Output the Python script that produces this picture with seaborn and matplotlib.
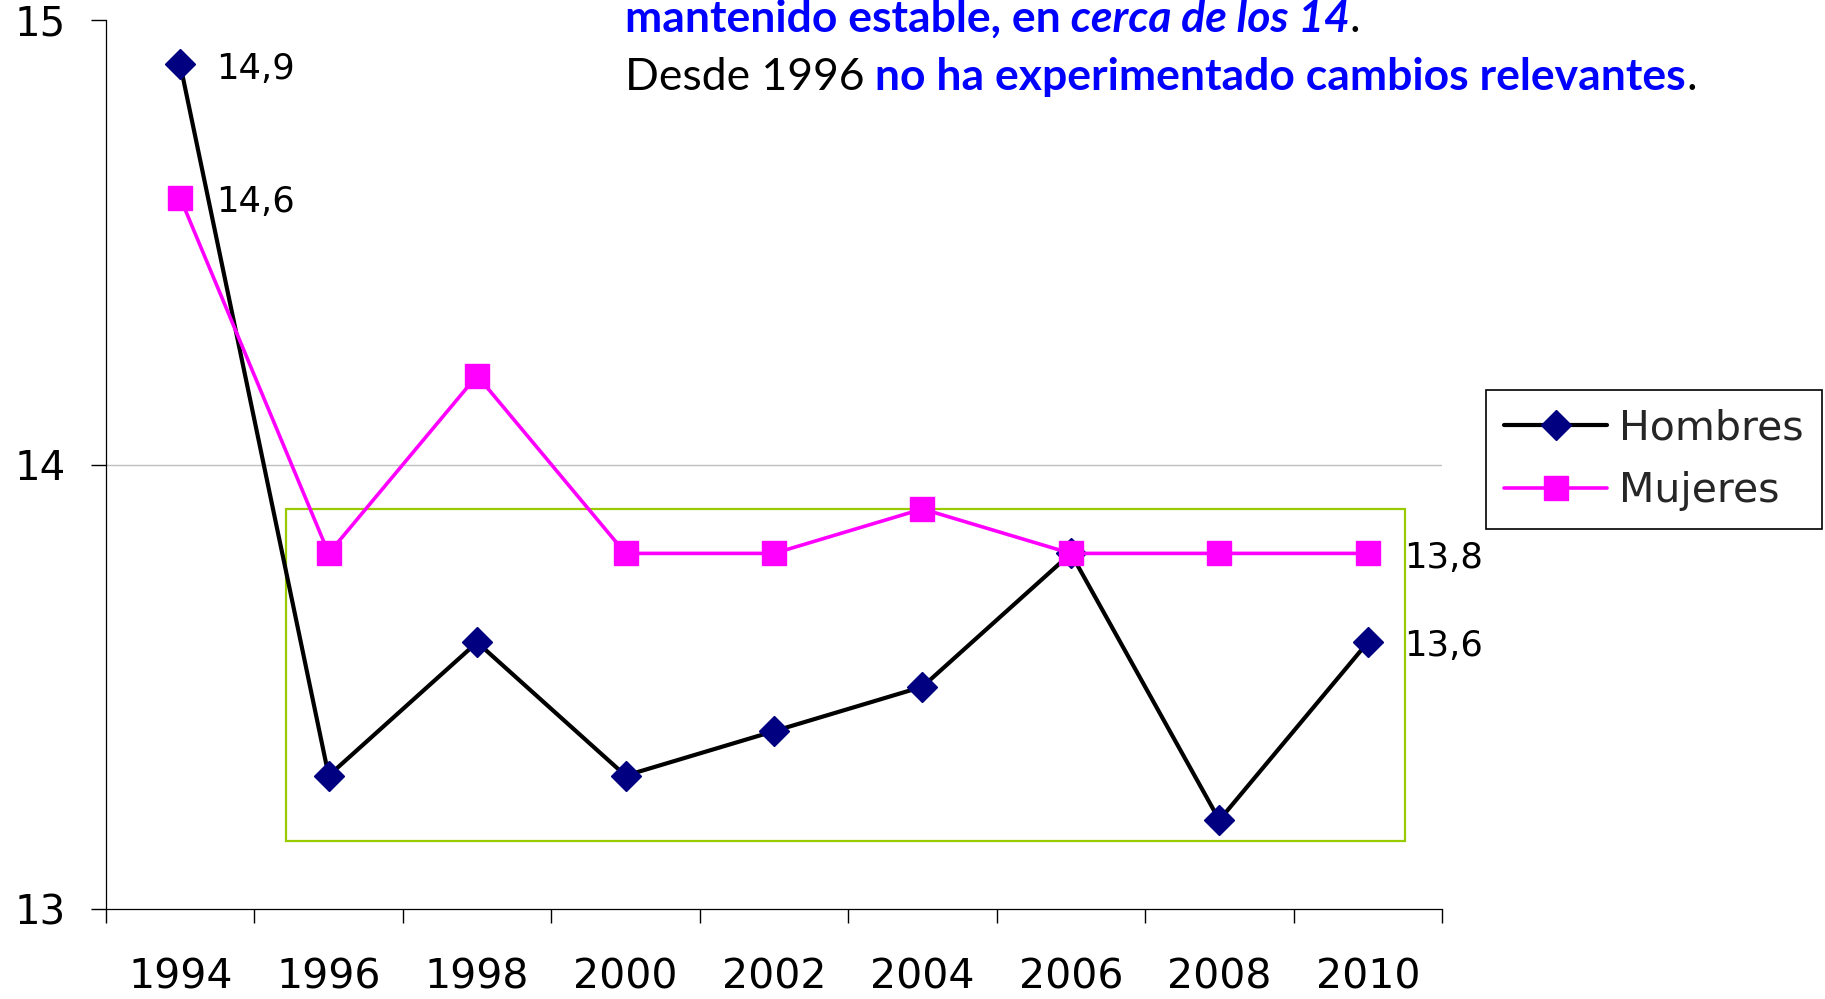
import matplotlib
matplotlib.use("Agg")
import numpy as np
import pandas as pd
import seaborn as sns
import matplotlib.pyplot as plt
from matplotlib.patches import Rectangle

# ---------------- data ----------------
years = ["1994", "1996", "1998", "2000", "2002", "2004", "2006", "2008", "2010"]
hombres = [14.9, 13.3, 13.6, 13.3, 13.4, 13.5, 13.8, 13.2, 13.6]
mujeres = [14.6, 13.8, 14.2, 13.8, 13.8, 13.9, 13.8, 13.8, 13.8]
y_ticks = [13, 14, 15]
series_names = ["Hombres", "Mujeres"]

line1 = [("mantenido estable, en", "#0000FF", "bold", "normal"),
         (" cerca de los 14", "#0000FF", "bold", "italic"),
         (".", "black", "normal", "normal")]
line2 = [("Desde 1996", "black", "normal", "normal"),
         (" no ha experimentado cambios relevantes", "#0000FF", "bold", "normal"),
         (".", "black", "normal", "normal")]

# ---------------- style ----------------
sns.set_theme(style="white")
plt.rcParams["font.family"] = ["DejaVu Sans"]

W, H = 1825, 999
fig = plt.figure(figsize=(W / 100, H / 100), dpi=100)
ax = fig.add_axes([106 / W, 1 - 909 / H, (1442 - 106) / W, (909 - 20) / H])

pos = np.arange(len(years))
df = pd.DataFrame({"pos": pos, "Hombres": hombres, "Mujeres": mujeres})

sns.lineplot(data=df, x="pos", y="Hombres", ax=ax, color="black", lw=3.0,
             marker="D", markersize=15, markerfacecolor="#000080",
             markeredgecolor="#000080", markeredgewidth=1,
             label=series_names[0], zorder=3)
sns.lineplot(data=df, x="pos", y="Mujeres", ax=ax, color="#FF00FF", lw=2.6,
             marker="s", markersize=17, markerfacecolor="#FF00FF",
             markeredgecolor="#FF00FF", markeredgewidth=1,
             label=series_names[1], zorder=4)

ax.set_xlim(-0.5, len(years) - 0.5)
ax.set_ylim(min(y_ticks), max(y_ticks))
ax.set_xlabel("")
ax.set_ylabel("")

ax.set_yticks(y_ticks)
ax.set_yticklabels([str(t) for t in y_ticks], fontsize=29)
ax.set_xticks(pos)
ax.set_xticklabels(years, fontsize=29.5)
ax.set_xticks(np.arange(-0.5, len(years), 1), minor=True)
ax.tick_params(axis="x", which="major", length=0, pad=35, colors="black")
ax.tick_params(axis="x", which="minor", length=10, width=1, color="black",
               direction="out", bottom=True)
ax.tick_params(axis="y", which="major", length=11, width=1, color="black",
               direction="out", left=True, pad=18, labelcolor="black")
for lab in ax.get_yticklabels():
    lab.set_va("center_baseline")

ax.yaxis.grid(True, color="#C0C0C0", lw=1)
for t, v in zip(ax.yaxis.get_major_ticks(), y_ticks):
    t.gridline.set_visible(v == 14)
ax.xaxis.grid(False)

for s in ["top", "right"]:
    ax.spines[s].set_visible(False)
for s in ["left", "bottom"]:
    ax.spines[s].set_color("black")
    ax.spines[s].set_linewidth(0.9)

# value labels on first and last points
def fmt(v):
    return f"{v:.1f}".replace(".", ",")

for vals in (hombres, mujeres):
    for i in (0, len(vals) - 1):
        ax.annotate(fmt(vals[i]), xy=(pos[i], vals[i]), xytext=(26, -3),
                    textcoords="offset points", ha="left", va="center",
                    fontsize=25.5, color="black", zorder=5)

# green highlight box
ax.add_patch(Rectangle((0.715, 13.152), 8.249 - 0.715, 13.899 - 13.152,
                       fill=False, ec="#99CC00", lw=1.6, zorder=2))

# legend
handles, labels = ax.get_legend_handles_labels()
leg = fig.legend(handles, labels, loc="upper left",
                 bbox_to_anchor=(1486 / W, 1 - 390 / H), bbox_transform=fig.transFigure,
                 fontsize=29.5, frameon=True, fancybox=False, framealpha=1,
                 edgecolor="black", handlelength=2.5, handletextpad=0.3,
                 borderpad=0.45, labelspacing=0.55, borderaxespad=0)
leg.get_frame().set_linewidth(1.2)
if ax.get_legend() is not None:
    ax.get_legend().remove()

# rich header text
renderer = fig.canvas.get_renderer()

def place(segments, x0, y, size):
    x = x0
    out = []
    for txt, col, wt, st in segments:
        t = fig.text(x, y, txt, color=col, fontweight=wt, fontstyle=st,
                     fontsize=size, family="Lato", ha="left", va="baseline")
        bb = t.get_window_extent(renderer)
        x = bb.x1 / fig.bbox.width
        out.append(t)
    return out, x

base = 30
tmp, xend = place(line2, 625 / W, 1 - 90 / H, base)
measured = (xend - 625 / W) * W
for t in tmp:
    t.remove()
size = base * 1070 / measured
place(line1, 625 / W, 1 - 32 / H, size)
place(line2, 625 / W, 1 - 90 / H, size)

fig.savefig("out.png", dpi=100)
